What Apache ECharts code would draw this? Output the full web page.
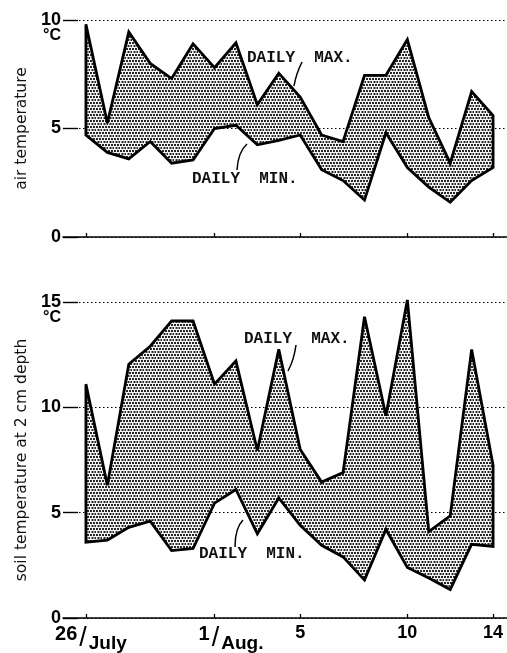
<!DOCTYPE html>
<html><head><meta charset="utf-8">
<script src="https://cdn.jsdelivr.net/npm/echarts@6/dist/echarts.min.js"></script>
<style>html,body{margin:0;padding:0;background:#fff}#c{width:507px;height:653px}</style>
</head><body><div id="c"></div>
<script>
// day index 0 = 26 July ... 19 = 14 Aug
const dayIndex = [0,1,2,3,4,5,6,7,8,9,10,11,12,13,14,15,16,17,18,19];
const airMax = [9.8,5.25,9.45,8.0,7.3,8.9,7.8,8.95,6.1,7.55,6.45,4.7,4.4,7.45,7.45,9.1,5.5,3.4,6.7,5.6];
const airMin = [4.7,3.9,3.6,4.4,3.4,3.55,5.0,5.15,4.25,4.45,4.7,3.1,2.6,1.7,4.8,3.2,2.3,1.6,2.6,3.2];
const soilMax = [11.1,6.3,12.05,12.9,14.1,14.1,11.1,12.2,7.95,12.75,8.0,6.45,6.9,14.3,9.6,15.1,4.1,4.85,12.75,7.25];
const soilMin = [3.6,3.7,4.3,4.6,3.2,3.3,5.45,6.1,4.0,5.7,4.4,3.45,2.9,1.8,4.2,2.4,1.9,1.35,3.5,3.4];
const xTickDays = [0,6,10,15,19];
const xTickLabels = ['26/July','1/Aug.','5','10','14'];

// stipple pattern
const pc = document.createElement('canvas');
pc.width = 6; pc.height = 6;
const pctx = pc.getContext('2d');
pctx.fillStyle = '#f4f4f4'; pctx.fillRect(0,0,6,6);
pctx.fillStyle = '#262626';
[[0,0],[3,0],[1.5,3],[4.5,3]].forEach(p=>pctx.fillRect(p[0],p[1],2,2));
const stipple = {image: pc, repeat: 'repeat'};

function bandData(xs, hi, lo){ return xs.map((x,i)=>[x, hi[i], lo[i]]); }

const chart = echarts.init(document.getElementById('c'), null, {renderer:'canvas'});
const labelFont = 'Liberation Sans';
const xMin = -1.07, xMax = 19.65;

function xAxis(gi, showLabels){
  return {
    type:'value', gridIndex: gi, min: xMin, max: xMax,
    axisLine:{show:true, onZero:false, lineStyle:{color:'#000', width:1.6}},
    axisTick:{show:true, inside:true, length:4, customValues: xTickDays, lineStyle:{color:'#000', width:1.3}},
    splitLine:{show:false},
    axisLabel:{
      show: showLabels, customValues: xTickDays, margin: 6,
      fontFamily: labelFont, fontWeight:'bold', fontSize:18, color:'#000',
      formatter: function(v){
        const i = xTickDays.indexOf(Math.round(v));
        const t = xTickLabels[i];
        if (t === undefined) return '';
        if (t.indexOf('/')>=0){
          const parts = t.split('/');
          const pad = i===0 ? 'p1' : 'p2';
          return '{' + pad + '| }{n|' + parts[0] + '}{s|/}{m|' + parts[1] + '}';
        }
        return t;
      },
      rich:{
        p1:{width:10, fontSize:10},
        p2:{width:33, fontSize:10},
        n:{fontFamily:labelFont, fontWeight:'bold', fontSize:20, color:'#000', padding:[0,0,8,0]},
        s:{fontFamily:labelFont, fontWeight:'normal', fontSize:27, color:'#000', padding:[0,2,0,2]},
        m:{fontFamily:labelFont, fontWeight:'bold', fontSize:19, color:'#000', padding:[10,0,0,0]}
      }
    }
  };
}
function yAxis(gi, max, name){
  return {
    type:'value', gridIndex: gi, min:0, max:max, interval:5,
    name: name, nameLocation:'middle', nameGap: 33, nameRotate: 90,
    nameTextStyle:{fontFamily:'DejaVu Sans', fontSize:15.5, color:'#111'},
    axisLine:{show:false, onZero:false},
    axisTick:{show:true, inside:true, length:15, lineStyle:{color:'#000', width:1.4}},
    splitLine:{show:true, lineStyle:{color:'#000', width:1.1, type:[1.5,2.5]}},
    axisLabel:{fontFamily:labelFont, fontWeight:'bold', fontSize:18, color:'#000', margin:2}
  };
}

const lineW = 2.8;
function renderBand(params, api){
  if (params.dataIndexInside !== 0) return null;
  const n = params.dataInsideLength;
  const top = [], bot = [];
  for (let j=0;j<n;j++){
    const x = api.value(0,j);
    top.push(api.coord([x, api.value(1,j)]));
    bot.push(api.coord([x, api.value(2,j)]));
  }
  const poly = top.concat(bot.reverse());
  return {
    type:'polygon', shape:{points: poly},
    style:{fill: stipple, stroke:'#000', lineWidth: lineW, lineJoin:'miter', miterLimit:3}
  };
}
function bandSeries(gi, hi, lo){
  return {type:'custom', xAxisIndex:gi, yAxisIndex:gi, data: bandData(dayIndex, hi, lo),
    encode:{x:0, y:[1,2]}, renderItem: renderBand, silent:true, clip:false, z:3};
}

const annoFont = 'Liberation Mono';
function txt(x,y,t,size){ return {type:'text', left:x, top:y, style:{text:t, font:'bold '+size+'px "'+annoFont+'"', fill:'#111'}}; }
function degC(x,y){ return {type:'text', left:x, top:y, style:{text:'°C', font:'bold 16px "'+labelFont+'"', fill:'#000'}}; }
function curve(x1,y1,cx,cy,x2,y2){ return {type:'bezierCurve', shape:{x1:x1,y1:y1,x2:x2,y2:y2,cpx1:cx,cpy1:cy}, style:{stroke:'#000', lineWidth:1.5, fill:null}}; }

chart.setOption({
  animation:false,
  grid:[
    {left:63, right:0, top:20, height:217},
    {left:63, right:0, top:302, height:322}
  ],
  xAxis:[xAxis(0,false), xAxis(1,true)],
  yAxis:[yAxis(0,10,'air temperature'), yAxis(1,15,'soil temperature at 2 cm depth')],
  series: [bandSeries(0, airMax, airMin), bandSeries(1, soilMax, soilMin)],
  graphic:[
    degC(43,28), degC(43,310),
    txt(247,50,'DAILY  MAX.',16),
    txt(192,171,'DAILY  MIN.',16),
    txt(244,331,'DAILY  MAX.',16),
    txt(199,546,'DAILY  MIN.',16),
    curve(302,62,296,74,294,86),
    curve(247,144,238,152,237,170),
    curve(296,345,294,360,288,371),
    curve(243,520,235,528,235,547)
  ]
});
</script></body></html>
